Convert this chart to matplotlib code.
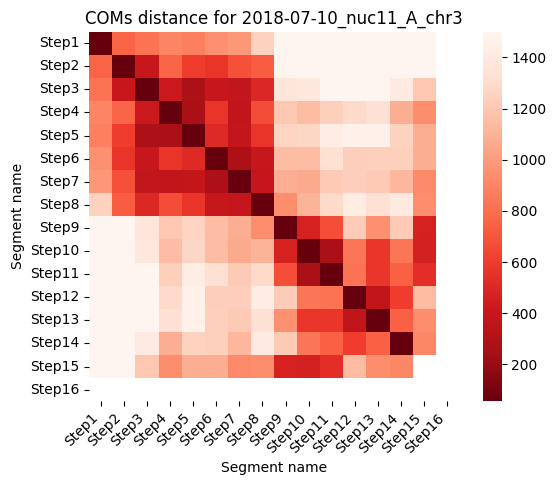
import numpy as np
import pandas as pd
import matplotlib
matplotlib.use("Agg")
import matplotlib.pyplot as plt
import seaborn as sns

# segment names and pairwise distances (upper triangle, row by row)
segments = [f"Step{i}" for i in range(1, 17)]
diag_value = 55
upper = [
    [750, 820, 900, 870, 950, 980, 1250, 1500, 1500, 1500, 1500, 1500, 1500, 1500],
    [400, 750, 600, 560, 680, 730, 1500, 1500, 1500, 1500, 1500, 1500, 1500],
    [420, 270, 400, 370, 500, 1370, 1380, 1500, 1500, 1500, 1400, 1200],
    [260, 560, 360, 660, 1200, 1150, 1240, 1290, 1330, 1080, 930],
    [510, 380, 560, 1260, 1270, 1420, 1460, 1460, 1250, 1080],
    [280, 390, 1150, 1150, 1320, 1230, 1240, 1240, 1080],
    [385, 1080, 1060, 1210, 1230, 1210, 1120, 920],
    [940, 1110, 1290, 1420, 1330, 1400, 940],
    [470, 670, 1220, 950, 1210, 470],
    [260, 830, 570, 830, 460],
    [820, 570, 740, 530],
    [360, 600, 1140],
    [740, 940],
    [910],
]

n = len(segments)
dist = np.full((n, n), np.nan)
for i, row in enumerate(upper):
    dist[i, i] = diag_value
    for k, v in enumerate(row):
        dist[i, i + 1 + k] = v
        dist[i + 1 + k, i] = v
df = pd.DataFrame(dist, index=segments, columns=segments)

W, H = 556, 486
fig = plt.figure(figsize=(W / 100, H / 100), dpi=100)
ax = fig.add_axes([89.2 / W, (H - 401.2) / H, 369.6 / W, 369.6 / H])
cax = fig.add_axes([483 / W, (H - 401.4) / H, 18.7 / W, 369.6 / H])
sns.heatmap(df, cmap="Reds_r", vmin=diag_value, vmax=1500, square=True,
            ax=ax, cbar_ax=cax)
ax.set_title("COMs distance for 2018-07-10_nuc11_A_chr3")
ax.set_xlabel("Segment name")
ax.set_ylabel("Segment name")
ax.set_xticklabels(ax.get_xticklabels(), rotation=45, ha="right")
ax.set_yticklabels(ax.get_yticklabels(), rotation=0)
plt.savefig("out.png", dpi=100)
